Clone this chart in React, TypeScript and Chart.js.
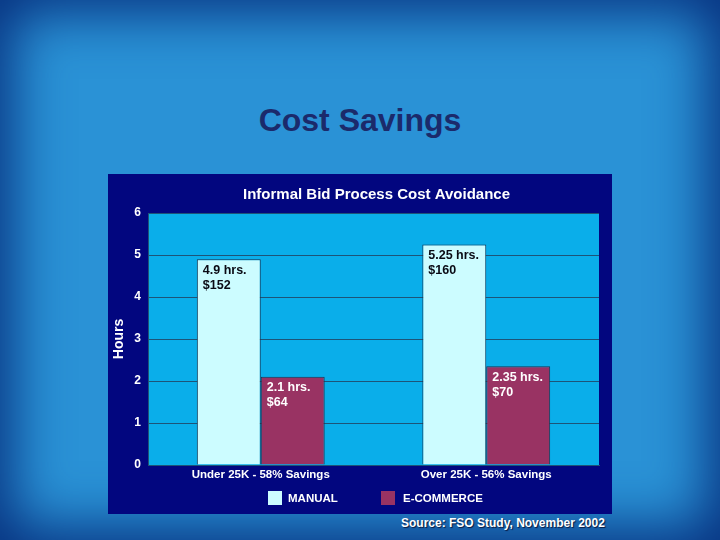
import React, { useEffect, useRef } from "react";
import { Chart, registerables } from "chart.js";
Chart.register(...registerables);

const pageTitle = "Cost Savings";
const chartTitle = "Informal Bid Process Cost Avoidance";
const sourceNote = "Source: FSO Study, November 2002";
const categories = ["Under 25K - 58% Savings", "Over 25K - 56% Savings"];
const seriesNames = ["MANUAL", "E-COMMERCE"];
const manualHours = [4.9, 5.25];
const ecommerceHours = [2.1, 2.35];
const manualCost = ["$152", "$160"];
const ecommerceCost = ["$64", "$70"];
const yMin = 0;
const yMax = 6;
const yStep = 1;
const yTitle = "Hours";

const FONT = '"Liberation Sans", Arial, Helvetica, sans-serif';
const NAVY = "#02067f";
const PLOT_BG = "#0aaeea";
const GRID = "#1d5478";
const MANUAL_COLOR = "#ccfcff";
const ECOM_COLOR = "#993363";
const BAR_BORDER = "#1a3550";

export default function App() {
  const ref = useRef<HTMLCanvasElement | null>(null);

  useEffect(() => {
    document.body.style.margin = "0";
    const canvas = ref.current;
    if (!canvas) return;

    const costLabels = [manualCost, ecommerceCost];
    const textColors = ["#0a0a14", "#ffffff"];

    const panelPlugin = {
      id: "panel",
      beforeDraw(chart: any) {
        const { ctx, chartArea } = chart;
        ctx.save();
        ctx.fillStyle = NAVY;
        ctx.fillRect(0, 0, chart.width, chart.height);
        ctx.fillStyle = PLOT_BG;
        ctx.fillRect(chartArea.left, chartArea.top, chartArea.right - chartArea.left, chartArea.bottom - chartArea.top);
        ctx.restore();
      },
      afterDatasetsDraw(chart: any) {
        const { ctx } = chart;
        ctx.save();
        ctx.font = `bold 12.5px ${FONT}`;
        ctx.textAlign = "left";
        ctx.textBaseline = "middle";
        chart.data.datasets.forEach((ds: any, di: number) => {
          const meta = chart.getDatasetMeta(di);
          meta.data.forEach((bar: any, i: number) => {
            const left = bar.x - bar.width / 2;
            ctx.fillStyle = textColors[di];
            ctx.fillText(`${ds.data[i]} hrs.`, left + 6, bar.y + 11);
            ctx.fillText(costLabels[di][i], left + 6, bar.y + 26);
          });
        });
        ctx.restore();
      },
      afterDraw(chart: any) {
        const { ctx, chartArea } = chart;
        ctx.save();
        ctx.fillStyle = "#ffffff";
        ctx.font = `bold 15px ${FONT}`;
        ctx.textAlign = "center";
        ctx.textBaseline = "middle";
        ctx.fillText(chartTitle, (chartArea.left + chartArea.right) / 2 + 3, 21);
        // legend
        const starts = [160, 273];
        ctx.font = `bold 11.5px ${FONT}`;
        ctx.textAlign = "left";
        chart.data.datasets.forEach((ds: any, di: number) => {
          const x = starts[di];
          ctx.fillStyle = ds.backgroundColor;
          ctx.fillRect(x, 317, 14, 14);
          ctx.fillStyle = "#ffffff";
          ctx.fillText(ds.label, x + 20 + di * 2, 324.5);
        });
        ctx.restore();
      },
    };

    const chart = new Chart(canvas, {
      type: "bar",
      data: {
        labels: categories,
        datasets: [
          {
            label: seriesNames[0],
            data: manualHours,
            backgroundColor: MANUAL_COLOR,
            borderColor: BAR_BORDER,
            borderWidth: 1,
          },
          {
            label: seriesNames[1],
            data: ecommerceHours,
            backgroundColor: ECOM_COLOR,
            borderColor: BAR_BORDER,
            borderWidth: 1,
          },
        ],
      },
      options: {
        responsive: false,
        animation: false,
        devicePixelRatio: 1,
        layout: { padding: { top: 39, right: 13, bottom: 0, left: 0 } },
        datasets: { bar: { categoryPercentage: 0.567, barPercentage: 1 } },
        plugins: {
          legend: { display: false },
          title: { display: false },
          tooltip: { enabled: false },
        },
        scales: {
          x: {
            grid: { display: false, drawTicks: false },
            border: { display: true, color: GRID, width: 1 },
            ticks: {
              color: "#ffffff",
              font: { family: FONT, size: 11.5, weight: "bold" },
              padding: 3,
            },
            afterFit(scale: any) {
              scale.height = 49;
            },
          },
          y: {
            min: yMin,
            max: yMax,
            grid: { color: GRID, lineWidth: 1, drawTicks: false },
            border: { display: true, color: GRID, width: 1 },
            ticks: {
              stepSize: yStep,
              color: "#ffffff",
              font: { family: FONT, size: 12, weight: "bold" },
              padding: 7,
            },
            title: {
              display: true,
              text: yTitle,
              color: "#ffffff",
              font: { family: FONT, size: 14, weight: "bold" },
              padding: { top: 3, bottom: 0 },
            },
            afterFit(scale: any) {
              scale.width = 40;
            },
          },
        },
      },
      plugins: [panelPlugin],
    } as any);

    return () => chart.destroy();
  }, []);

  return (
    <div
      style={{
        position: "relative",
        width: 720,
        height: 540,
        overflow: "hidden",
        background: "#2a92d6",
        boxShadow: "inset 0 0 55px 12px #07307e",
        fontFamily: FONT,
      }}
    >
      <div
        style={{
          position: "absolute",
          left: 0,
          width: 720,
          top: 104,
          textAlign: "center",
          fontSize: 32,
          lineHeight: "32px",
          fontWeight: "bold",
          color: "#1b2a6b",
        }}
      >
        {pageTitle}
      </div>
      <canvas
        ref={ref}
        width={504}
        height={340}
        style={{ position: "absolute", left: 108, top: 174, width: 504, height: 340 }}
      />
      <div
        style={{
          position: "absolute",
          left: 401,
          top: 517,
          fontSize: 12,
          lineHeight: "12px",
          fontWeight: "bold",
          color: "#ffffff",
          whiteSpace: "nowrap",
          textShadow: "1px 1px 1px #0a1a40",
        }}
      >
        {sourceNote}
      </div>
    </div>
  );
}
